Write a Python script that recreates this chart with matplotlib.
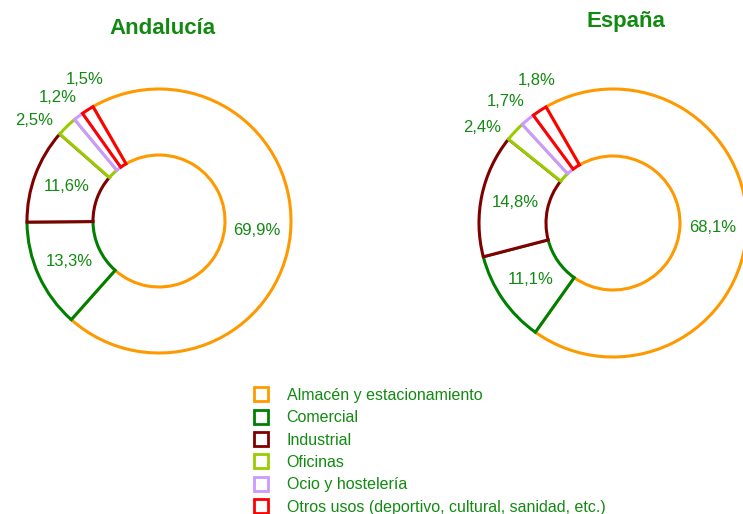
import matplotlib.pyplot as plt
from matplotlib.lines import Line2D
import numpy as np

# categories and shares (%)
categories = ['Almacén y estacionamiento', 'Comercial', 'Industrial',
              'Oficinas', 'Ocio y hostelería',
              'Otros usos (deportivo, cultural, sanidad, etc.)']
andalucia = [69.9, 13.3, 11.6, 2.5, 1.2, 1.5]
espana = [68.1, 11.1, 14.8, 2.4, 1.7, 1.8]
colors = ['#FF9900', '#008000', '#800000', '#99CC00', '#CC99FF', '#FF0000']

text_green = '#128A12'
plt.rcParams['font.family'] = ['Liberation Sans', 'DejaVu Sans']

fig = plt.figure(figsize=(7.43, 5.14), dpi=100)

# half-extent of the axes in data units (pie radius is 1)
ext = 1.4


def donut(cx, cy, r, values, title, title_xy):
    # cx, cy, r in pixels (y from top)
    W, H = 743, 514
    size = 2 * ext * r
    ax = fig.add_axes([(cx - ext * r) / W, 1 - (cy + ext * r) / H, size / W, size / H])
    wedges, _ = ax.pie(values, colors=['white'] * len(values), startangle=120,
                       counterclock=False, radius=1,
                       wedgeprops=dict(width=0.5, linewidth=2.2))
    for w, c in zip(wedges, colors):
        w.set_edgecolor(c)
        w.set_clip_on(False)
    # small slices get their label outside, spread apart
    nudge = {3: 7, 4: 2, 5: -5}
    for i, (w, v) in enumerate(zip(wedges, values)):
        mid = (w.theta1 + w.theta2) / 2
        if i in nudge:
            ang = np.radians(mid + nudge[i])
            rr = 1.21
        else:
            ang = np.radians(mid)
            rr = 0.745
        ax.text(rr * np.cos(ang), rr * np.sin(ang), f'{v:.1f}%'.replace('.', ','),
                ha='center', va='center', fontsize=12, color=text_green)
    ax.set_xlim(-ext, ext)
    ax.set_ylim(-ext, ext)
    ax.set_aspect('equal')
    ax.axis('off')
    fig.text(title_xy[0] / W, 1 - title_xy[1] / H, title, ha='center', va='center',
             fontsize=16, fontweight='bold', color=text_green)


donut(159, 221, 132, andalucia, 'Andalucía', (162, 28))
donut(613, 223, 134, espana, 'España', (626, 22))

handles = [Line2D([], [], marker='s', linestyle='none', markersize=9.5,
                  markerfacecolor='white', markeredgecolor=c, markeredgewidth=2)
           for c in colors]
leg = fig.legend(handles, categories, loc='upper left',
                 bbox_to_anchor=(253 / 743, 1 - 388 / 514), frameon=False,
                 fontsize=11.5, handlelength=1.0, handletextpad=1.1,
                 labelspacing=0.46, borderaxespad=0, borderpad=0)
for t in leg.get_texts():
    t.set_color(text_green)

fig.savefig('out.png', dpi=100)
